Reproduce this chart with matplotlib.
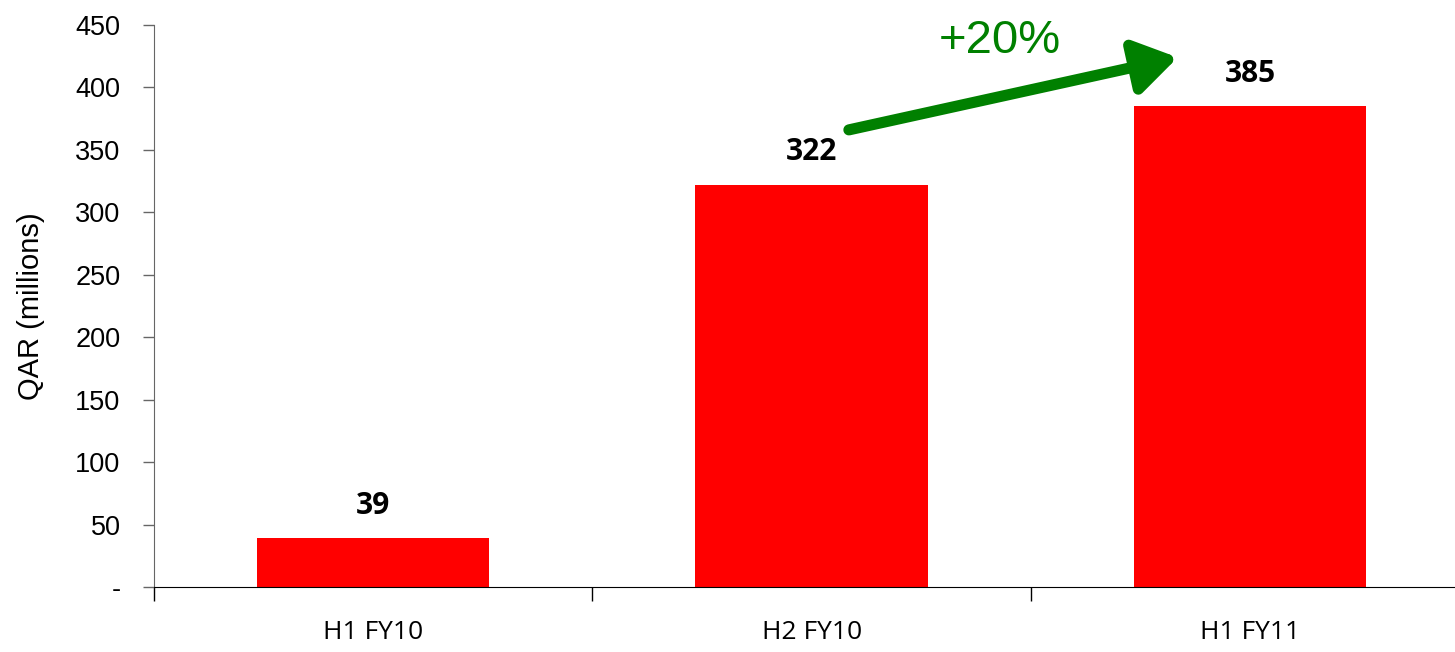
import matplotlib
matplotlib.use('Agg')
from matplotlib import pyplot as plt

# datos del grafico
categorias = ['H1 FY10', 'H2 FY10', 'H1 FY11']
valores = [39, 322, 385]
yticks = [0, 50, 100, 150, 200, 250, 300, 350, 400, 450]
ytick_labels = ['-', '50', '100', '150', '200', '250', '300', '350', '400', '450']

fig = plt.figure(figsize=(14.55, 6.52), dpi=100)
ax = fig.add_axes([0.1058, 0.0997, 0.904, 0.862])

x = range(len(categorias))
ax.bar(x, valores, width=0.53, color='#ff0000', zorder=2)

for xi, v in zip(x, valores):
    ax.text(xi, v + 26, str(v), ha='center', va='center', fontsize=21.5,
            fontweight='bold', family='Open Sans', color='black')

ax.set_xlim(-0.5, 2.5)
ax.set_ylim(0, 450)
ax.set_yticks(yticks)
ax.set_yticklabels(ytick_labels, fontsize=19.5, family='Liberation Sans')
ax.set_xticks([-0.5, 0.5, 1.5, 2.5])
ax.set_xticklabels([])
ax.set_xticks(list(x), minor=True)
ax.set_xticklabels(categorias, minor=True, fontsize=19, family='Open Sans')
ax.tick_params(axis='x', which='major', length=10, width=1, direction='out')
ax.tick_params(axis='x', which='minor', length=0, pad=24)
ax.tick_params(axis='y', length=8, width=1, color='#666666', pad=16)

ax.spines['top'].set_visible(False)
ax.spines['right'].set_visible(False)
ax.spines['left'].set_color('#666666')
ax.spines['bottom'].set_color('black')

ax.set_ylabel('QAR (millions)', fontsize=21, family='Liberation Sans', labelpad=22)

# flecha de crecimiento
ax.annotate('', xy=(1.835, 424), xytext=(1.085, 366),
            arrowprops=dict(arrowstyle='-|>,head_length=1.4,head_width=0.9',
                            mutation_scale=18, lw=8, color='#008000',
                            shrinkA=0, shrinkB=0))
ax.text(1.43, 437, '+20%', ha='center', va='center', fontsize=34,
        color='#008000', family='Liberation Sans')

plt.savefig('out.png', dpi=100)
